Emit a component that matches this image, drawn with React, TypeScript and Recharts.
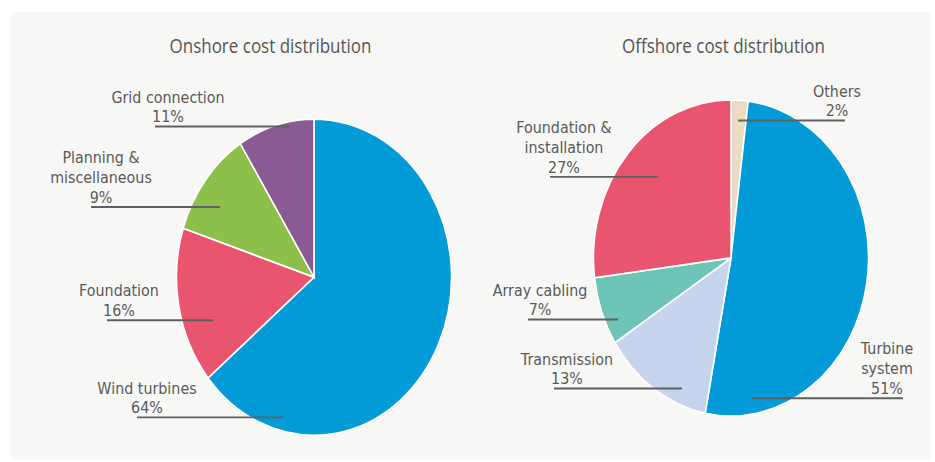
import React from 'react';
import { PieChart, Pie, Cell, Customized } from 'recharts';

// The reference image is stretched vertically, so the chart is drawn flat and scaled in Y.
const STRETCH = 1.15;
const WIDTH = 935;
const HEIGHT = 462;
const CHART_HEIGHT = Math.round(HEIGHT / STRETCH);

// Onshore data (clockwise from 12 o'clock)
const onshoreNames = ['Wind turbines', 'Foundation', 'Planning &\nmiscellaneous', 'Grid connection'];
const onshoreShares = [64, 16, 11, 9];
const onshorePercents = ['64%', '16%', '9%', '11%'];
const onshoreColors = ['#029bd8', '#e9546f', '#8cc04b', '#8a5a94'];

// Offshore data (clockwise from 12 o'clock)
const offshoreNames = ['Others', 'Turbine\nsystem', 'Transmission', 'Array cabling', 'Foundation &\ninstallation'];
const offshoreShares = [2, 51, 13, 7, 27];
const offshorePercents = ['2%', '51%', '13%', '7%', '27%'];
const offshoreColors = ['#eadcc3', '#029bd8', '#c6d4ee', '#6ec4b7', '#e9546f'];

const titles = ['Onshore cost distribution', 'Offshore cost distribution'];

// label placement, offsets from the pie centre
const onshoreLabelLayout = [
    { textX: -167, lineY: 122, x1: -177, x2: -31 },
    { textX: -195, lineY: 37.5, x1: -207, x2: -101 },
    { textX: -213, lineY: -61, x1: -223, x2: -94 },
    { textX: -146, lineY: -131, x1: -159, x2: -24 },
];

const offshoreLabelLayout = [
    { textX: 106, lineY: -119.5, x1: 7, x2: 114 },
    { textX: 156, lineY: 122, x1: 21, x2: 172 },
    { textX: -164, lineY: 113.5, x1: -177, x2: -49 },
    { textX: -191, lineY: 53.5, x1: -203, x2: -113 },
    { textX: -167, lineY: -70.5, x1: -181, x2: -73 },
];

const TITLE_FONT = '"Open Sans", sans-serif';
const LABEL_FONT = '"DejaVu Sans", sans-serif';
const TEXT_COLOR = '#5a5a5a';

const toData = (names: string[], shares: number[], percents: string[]) =>
    names.map((name, i) => ({ name, value: shares[i], percent: percents[i] }));

const onshoreData = toData(onshoreNames, onshoreShares, onshorePercents);
const offshoreData = toData(offshoreNames, offshoreShares, offshorePercents);

// Text block above a horizontal leader line that runs into the slice
const makeLabel = (layout: any[]) => (props: any) => {
    const { cx, cy, index, payload } = props;
    const l = layout[index];
    if (!l) return null;
    const lines = [...String(payload.name).split('\n'), payload.percent];
    const lineY = cy + l.lineY;
    const lastBase = lineY - 3.5;
    return (
        <g>
            {lines.map((t: string, i: number) => (
                <text
                    key={i}
                    x={cx + l.textX}
                    y={lastBase - (lines.length - 1 - i) * 17.3}
                    textAnchor="middle"
                    fontFamily={LABEL_FONT}
                    fontSize={14.3}
                    fill={TEXT_COLOR}
                >
                    {t}
                </text>
            ))}
            <line
                x1={cx + l.x1}
                x2={cx + l.x2}
                y1={lineY}
                y2={lineY}
                stroke="#606060"
                strokeWidth={1.6}
            />
        </g>
    );
};

const Titles = () => (
    <g>
        <text x={270.5} y={46} textAnchor="middle" fontFamily={TITLE_FONT} fontSize={17} fill="#555">
            {titles[0]}
        </text>
        <text x={723.5} y={46} textAnchor="middle" fontFamily={TITLE_FONT} fontSize={17} fill="#555">
            {titles[1]}
        </text>
    </g>
);

export default function App() {
    return (
        <div
            style={{
                position: 'absolute',
                left: 0,
                top: 0,
                width: WIDTH,
                height: HEIGHT,
                background: '#ffffff',
                overflow: 'hidden',
            }}
        >
            {/* light panel behind both charts */}
            <div
                style={{
                    position: 'absolute',
                    left: 11,
                    top: 12,
                    width: 919,
                    height: 448,
                    background: '#f7f7f5',
                }}
            />
            <div
                style={{
                    position: 'absolute',
                    left: 0,
                    top: 0,
                    transform: `scaleY(${STRETCH})`,
                    transformOrigin: '0 0',
                }}
            >
                <PieChart width={WIDTH} height={CHART_HEIGHT} margin={{ top: 0, right: 0, bottom: 0, left: 0 }}>
                    <Customized component={Titles} />
                    <Pie
                        data={onshoreData}
                        dataKey="value"
                        nameKey="name"
                        cx={314}
                        cy={241}
                        outerRadius={137.5}
                        startAngle={90}
                        endAngle={-270}
                        stroke="#ffffff"
                        strokeWidth={1.5}
                        label={makeLabel(onshoreLabelLayout)}
                        labelLine={false}
                        isAnimationActive={false}
                    >
                        {onshoreData.map((d, i) => (
                            <Cell key={d.name} fill={onshoreColors[i]} />
                        ))}
                    </Pie>
                    <Pie
                        data={offshoreData}
                        dataKey="value"
                        nameKey="name"
                        cx={731}
                        cy={224.3}
                        outerRadius={137.5}
                        startAngle={90}
                        endAngle={-270}
                        stroke="#ffffff"
                        strokeWidth={1.5}
                        label={makeLabel(offshoreLabelLayout)}
                        labelLine={false}
                        isAnimationActive={false}
                    >
                        {offshoreData.map((d, i) => (
                            <Cell key={d.name} fill={offshoreColors[i]} />
                        ))}
                    </Pie>
                </PieChart>
            </div>
        </div>
    );
}
